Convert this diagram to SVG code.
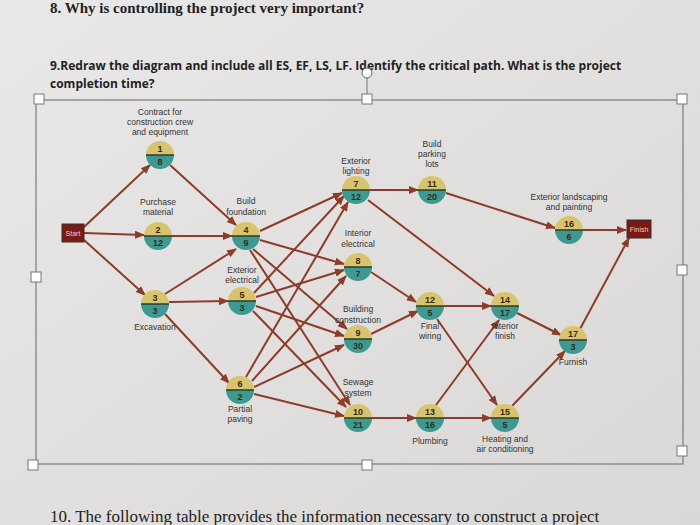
<svg xmlns="http://www.w3.org/2000/svg" width="700" height="525" viewBox="0 0 700 525">
<defs>
<marker id="ah" viewBox="0 0 10 10" refX="9" refY="5" markerWidth="5" markerHeight="5" orient="auto"><path d="M0,1 L10,5 L0,9 z" fill="#8e3b27"/></marker>
<linearGradient id="bg" x1="0" y1="0" x2="1" y2="1"><stop offset="0" stop-color="#e9e8e8"/><stop offset="1" stop-color="#d9d8d6"/></linearGradient>
</defs>
<style>
.e{stroke:#8e3b27;stroke-width:2;fill:none;marker-end:url(#ah)}
.t{fill:#d8c46c}.b{fill:#3c9a93}.d{stroke:#2b3d2a;stroke-width:1.5}
.n{font-family:"Liberation Sans",Arial,sans-serif;font-size:9px;font-weight:bold;fill:#3b2a10;text-anchor:middle}
.l{font-family:"Liberation Sans",Arial,sans-serif;font-size:8.5px;fill:#333;text-anchor:middle}
.h{fill:#fff;stroke:#777;stroke-width:1}
.q{font-family:"Open Sans","Liberation Sans",sans-serif;font-size:12px;font-weight:bold;fill:#222}
</style>
<rect width="700" height="525" fill="url(#bg)"/>
<text x="50" y="13" font-family="Liberation Serif,serif" font-size="15" font-weight="bold" fill="#222">8.  Why is controlling the project very important?</text>
<text x="50" y="70" class="q">9.Redraw the diagram and include all ES, EF, LS, LF. Identify the critical path. What is the project</text>
<text x="50" y="88" class="q">completion time?</text>
<text x="50" y="522" font-family="Liberation Serif,serif" font-size="17" fill="#222">10. The following table provides the information necessary to construct a project</text>
<rect x="36" y="100" width="647" height="364" fill="none" stroke="#666" stroke-width="1"/>
<g id="handles">
<rect class="h" x="34" y="94" width="10" height="10"/><rect class="h" x="362" y="94" width="10" height="10"/><rect class="h" x="677" y="94" width="10" height="10"/>
<rect class="h" x="31" y="272" width="10" height="10"/><rect class="h" x="677" y="265" width="10" height="10"/>
<rect class="h" x="28" y="460" width="10" height="10"/><rect class="h" x="362" y="460" width="10" height="10"/><rect class="h" x="677" y="446" width="10" height="10"/>
<line x1="367" y1="78" x2="367" y2="94" stroke="#777"/><circle cx="367" cy="73" r="5" fill="#fff" stroke="#666"/>
</g>
<g id="connectors">
<path class="e" d="M84,227 L150,165"/><path class="e" d="M84,233 L144,235"/><path class="e" d="M84,240 L145,295"/>
<path class="e" d="M170,165 L236,225"/><path class="e" d="M172,236 L232,236"/><path class="e" d="M165,294 L236,249"/>
<path class="e" d="M169,302 L228,301"/><path class="e" d="M165,314 L229,383"/>
<path class="e" d="M260,231 L342,193"/><path class="e" d="M260,240 L344,264"/><path class="e" d="M253,249 L347,329"/><path class="e" d="M250,250 L350,405"/>
<path class="e" d="M254,293 L344,196"/><path class="e" d="M256,297 L344,270"/><path class="e" d="M256,306 L344,336"/><path class="e" d="M253,311 L346,407"/>
<path class="e" d="M246,377 L348,202"/><path class="e" d="M252,381 L346,276"/><path class="e" d="M254,387 L344,345"/><path class="e" d="M254,394 L344,416"/>
<path class="e" d="M370,190 L418,190"/><path class="e" d="M368,200 L494,296"/>
<path class="e" d="M371,272 L416,302"/><path class="e" d="M371,334 L418,311"/><path class="e" d="M372,418 L416,418"/>
<path class="e" d="M446,193 L555,228"/><path class="e" d="M444,306 L491,306"/><path class="e" d="M437,319 L497,405"/>
<path class="e" d="M436,405 L499,320"/><path class="e" d="M444,418 L491,418"/>
<path class="e" d="M517,313 L561,335"/><path class="e" d="M512,406 L565,351"/>
<path class="e" d="M583,230 L626,230"/><path class="e" d="M580,329 L629,238"/>
</g>
<g id="start"><rect x="62" y="224" width="22" height="18" fill="#7a1a12" stroke="#333"/><text x="73" y="236" font-family="Liberation Sans,sans-serif" font-size="7" fill="#f0d0c0" text-anchor="middle">Start</text></g>
<g id="finish"><rect x="627" y="220" width="24" height="18" fill="#7a1a12" stroke="#333"/><text x="639" y="232" font-family="Liberation Sans,sans-serif" font-size="7" fill="#f0d0c0" text-anchor="middle">Finish</text></g>
<g id="n1" transform="translate(160,155)"><path class="t" d="M-14,0 A14,14 0 0 1 14,0z"/><path class="b" d="M-14,0 A14,14 0 0 0 14,0z"/><line class="d" x1="-14" y1="0" x2="14" y2="0"/><text class="n" y="-3">1</text><text class="n" y="10">8</text><text class="l" y="-40">Contract for</text><text class="l" y="-30">construction crew</text><text class="l" y="-20">and equipment</text></g>
<g id="n2" transform="translate(158,236)"><path class="t" d="M-14,0 A14,14 0 0 1 14,0z"/><path class="b" d="M-14,0 A14,14 0 0 0 14,0z"/><line class="d" x1="-14" y1="0" x2="14" y2="0"/><text class="n" y="-3">2</text><text class="n" y="10">12</text><text class="l" y="-31">Purchase</text><text class="l" y="-21">material</text></g>
<g id="n3" transform="translate(155,304)"><path class="t" d="M-14,0 A14,14 0 0 1 14,0z"/><path class="b" d="M-14,0 A14,14 0 0 0 14,0z"/><line class="d" x1="-14" y1="0" x2="14" y2="0"/><text class="n" y="-3">3</text><text class="n" y="10">3</text><text class="l" y="26">Excavation</text></g>
<g id="n4" transform="translate(246,236)"><path class="t" d="M-14,0 A14,14 0 0 1 14,0z"/><path class="b" d="M-14,0 A14,14 0 0 0 14,0z"/><line class="d" x1="-14" y1="0" x2="14" y2="0"/><text class="n" y="-3">4</text><text class="n" y="10">9</text><text class="l" y="-32">Build</text><text class="l" y="-21">foundation</text></g>
<g id="n5" transform="translate(242,301)"><path class="t" d="M-14,0 A14,14 0 0 1 14,0z"/><path class="b" d="M-14,0 A14,14 0 0 0 14,0z"/><line class="d" x1="-14" y1="0" x2="14" y2="0"/><text class="n" y="-3">5</text><text class="n" y="10">3</text><text class="l" y="-28">Exterior</text><text class="l" y="-18">electrical</text></g>
<g id="n6" transform="translate(240,390)"><path class="t" d="M-14,0 A14,14 0 0 1 14,0z"/><path class="b" d="M-14,0 A14,14 0 0 0 14,0z"/><line class="d" x1="-14" y1="0" x2="14" y2="0"/><text class="n" y="-3">6</text><text class="n" y="10">2</text><text class="l" y="22">Partial</text><text class="l" y="32">paving</text></g>
<g id="n7" transform="translate(356,190)"><path class="t" d="M-14,0 A14,14 0 0 1 14,0z"/><path class="b" d="M-14,0 A14,14 0 0 0 14,0z"/><line class="d" x1="-14" y1="0" x2="14" y2="0"/><text class="n" y="-3">7</text><text class="n" y="10">12</text><text class="l" y="-26">Exterior</text><text class="l" y="-16">lighting</text></g>
<g id="n8" transform="translate(358,267)"><path class="t" d="M-14,0 A14,14 0 0 1 14,0z"/><path class="b" d="M-14,0 A14,14 0 0 0 14,0z"/><line class="d" x1="-14" y1="0" x2="14" y2="0"/><text class="n" y="-3">8</text><text class="n" y="10">7</text><text class="l" y="-31">Interior</text><text class="l" y="-20">electrical</text></g>
<g id="n9" transform="translate(358,339)"><path class="t" d="M-14,0 A14,14 0 0 1 14,0z"/><path class="b" d="M-14,0 A14,14 0 0 0 14,0z"/><line class="d" x1="-14" y1="0" x2="14" y2="0"/><text class="n" y="-3">9</text><text class="n" y="10">30</text><text class="l" y="-27">Building</text><text class="l" y="-16">construction</text></g>
<g id="n10" transform="translate(358,418)"><path class="t" d="M-14,0 A14,14 0 0 1 14,0z"/><path class="b" d="M-14,0 A14,14 0 0 0 14,0z"/><line class="d" x1="-14" y1="0" x2="14" y2="0"/><text class="n" y="-3">10</text><text class="n" y="10">21</text><text class="l" y="-33">Sewage</text><text class="l" y="-22">system</text></g>
<g id="n11" transform="translate(432,190)"><path class="t" d="M-14,0 A14,14 0 0 1 14,0z"/><path class="b" d="M-14,0 A14,14 0 0 0 14,0z"/><line class="d" x1="-14" y1="0" x2="14" y2="0"/><text class="n" y="-3">11</text><text class="n" y="10">20</text><text class="l" y="-43">Build</text><text class="l" y="-33">parking</text><text class="l" y="-23">lots</text></g>
<g id="n12" transform="translate(430,306)"><path class="t" d="M-14,0 A14,14 0 0 1 14,0z"/><path class="b" d="M-14,0 A14,14 0 0 0 14,0z"/><line class="d" x1="-14" y1="0" x2="14" y2="0"/><text class="n" y="-3">12</text><text class="n" y="10">5</text><text class="l" y="23">Final</text><text class="l" y="33">wiring</text></g>
<g id="n13" transform="translate(430,418)"><path class="t" d="M-14,0 A14,14 0 0 1 14,0z"/><path class="b" d="M-14,0 A14,14 0 0 0 14,0z"/><line class="d" x1="-14" y1="0" x2="14" y2="0"/><text class="n" y="-3">13</text><text class="n" y="10">16</text><text class="l" y="26">Plumbing</text></g>
<g id="n14" transform="translate(505,306)"><path class="t" d="M-14,0 A14,14 0 0 1 14,0z"/><path class="b" d="M-14,0 A14,14 0 0 0 14,0z"/><line class="d" x1="-14" y1="0" x2="14" y2="0"/><text class="n" y="-3">14</text><text class="n" y="10">17</text><text class="l" y="23">Interior</text><text class="l" y="33">finish</text></g>
<g id="n15" transform="translate(505,418)"><path class="t" d="M-14,0 A14,14 0 0 1 14,0z"/><path class="b" d="M-14,0 A14,14 0 0 0 14,0z"/><line class="d" x1="-14" y1="0" x2="14" y2="0"/><text class="n" y="-3">15</text><text class="n" y="10">5</text><text class="l" y="24">Heating and</text><text class="l" y="34">air conditioning</text></g>
<g id="n16" transform="translate(569,230)"><path class="t" d="M-14,0 A14,14 0 0 1 14,0z"/><path class="b" d="M-14,0 A14,14 0 0 0 14,0z"/><line class="d" x1="-14" y1="0" x2="14" y2="0"/><text class="n" y="-3">16</text><text class="n" y="10">6</text><text class="l" y="-30">Exterior landscaping</text><text class="l" y="-20">and painting</text></g>
<g id="n17" transform="translate(573,340)"><path class="t" d="M-14,0 A14,14 0 0 1 14,0z"/><path class="b" d="M-14,0 A14,14 0 0 0 14,0z"/><line class="d" x1="-14" y1="0" x2="14" y2="0"/><text class="n" y="-3">17</text><text class="n" y="10">3</text><text class="l" y="25">Furnish</text></g>
</svg>
